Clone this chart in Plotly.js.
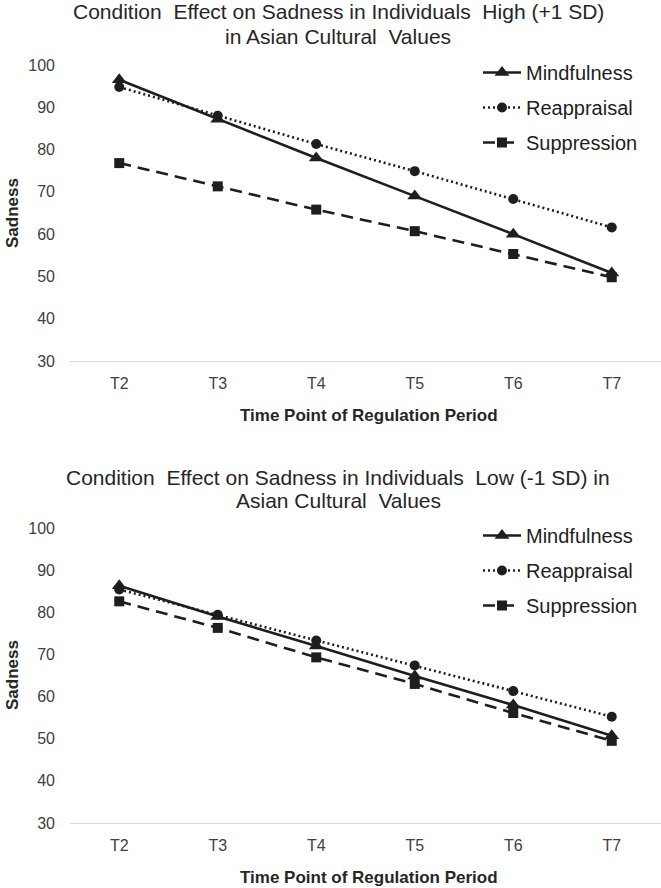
<!DOCTYPE html>
<html>
<head>
<meta charset="utf-8">
<script src="https://cdn.plot.ly/plotly-3.0.1.min.js"></script>
<style>
  html, body { margin: 0; padding: 0; background: #fff; }
  #plot { width: 661px; height: 888px; }
</style>
</head>
<body>
<div id="plot"></div>
<script>
const timePoints = ['T2', 'T3', 'T4', 'T5', 'T6', 'T7'];
const seriesNames = ['Mindfulness', 'Reappraisal', 'Suppression'];

// High (+1 SD) in Asian cultural values
const highMindfulness = [96.5, 87.2, 78.0, 69.0, 60.0, 50.8];
const highReappraisal = [94.8, 88.0, 81.3, 74.9, 68.3, 61.6];
const highSuppression = [76.8, 71.3, 65.8, 60.7, 55.3, 49.8];

// Low (-1 SD) in Asian cultural values
const lowMindfulness = [86.3, 79.0, 72.0, 64.9, 58.0, 50.7];
const lowReappraisal = [85.4, 79.4, 73.3, 67.4, 61.3, 55.2];
const lowSuppression = [82.6, 76.3, 69.3, 63.0, 56.1, 49.5];

const ink = '#1e1e1e';
const styles = {
    Mindfulness: {dash: 'solid', symbol: 'triangle-up', size: 13},
    Reappraisal: {dash: '2px,3px', symbol: 'circle', size: 10},
    Suppression: {dash: '12px,7px', symbol: 'square', size: 10}
};

function makeTrace(name, values, xa, ya, legendId) {
    const s = styles[name];
    return {
        x: timePoints,
        y: values,
        xaxis: xa,
        yaxis: ya,
        legend: legendId,
        legendgroup: legendId + name,
        name: name,
        mode: 'lines+markers',
        line: {color: ink, width: 2.6, dash: s.dash},
        marker: {color: ink, symbol: s.symbol, size: s.size}
    };
}

const data = [
    makeTrace('Mindfulness', highMindfulness, 'x', 'y', 'legend'),
    makeTrace('Reappraisal', highReappraisal, 'x', 'y', 'legend'),
    makeTrace('Suppression', highSuppression, 'x', 'y', 'legend'),
    makeTrace('Mindfulness', lowMindfulness, 'x2', 'y2', 'legend2'),
    makeTrace('Reappraisal', lowReappraisal, 'x2', 'y2', 'legend2'),
    makeTrace('Suppression', lowSuppression, 'x2', 'y2', 'legend2')
];

const font = 'Liberation Sans, Arial, sans-serif';
const W = 661, H = 888;
const px = v => v / W;
const py = v => 1 - v / H;

const xAxisBase = {
    type: 'category',
    range: [-0.5, 5.5],
    domain: [px(70), 1],
    showline: true,
    linecolor: '#d9d9d9',
    linewidth: 1,
    showgrid: false,
    zeroline: false,
    ticks: '',
    ticklabelstandoff: 8,
    tickfont: {family: font, size: 16, color: '#404040'},
    fixedrange: true
};

const yAxisBase = {
    range: [30, 100],
    dtick: 10,
    showline: false,
    showgrid: false,
    zeroline: false,
    ticks: '',
    ticklabelstandoff: 14,
    tickfont: {family: font, size: 16, color: '#404040'},
    fixedrange: true
};

const legendBase = {
    xanchor: 'left',
    yanchor: 'top',
    x: px(478),
    bgcolor: 'rgba(0,0,0,0)',
    font: {family: font, size: 20, color: ink},
    itemwidth: 38,
    tracegroupgap: 6
};

function label(text, x, y, opts) {
    return Object.assign({
        text: text, xref: 'paper', yref: 'paper', x: px(x), y: py(y),
        xanchor: 'center', yanchor: 'middle', showarrow: false,
        font: {family: font, size: 21, color: '#262626'}
    }, opts || {});
}

const boldFont = {family: font, size: 17, color: '#262626', weight: 'bold'};

const layout = {
    width: W,
    height: H,
    margin: {l: 0, r: 0, t: 0, b: 0},
    paper_bgcolor: '#fff',
    plot_bgcolor: '#fff',
    showlegend: true,
    xaxis: Object.assign({}, xAxisBase, {anchor: 'y'}),
    yaxis: Object.assign({}, yAxisBase, {anchor: 'x', domain: [py(361), py(65)]}),
    xaxis2: Object.assign({}, xAxisBase, {anchor: 'y2'}),
    yaxis2: Object.assign({}, yAxisBase, {anchor: 'x2', domain: [py(823), py(528)]}),
    legend: Object.assign({}, legendBase, {y: py(53)}),
    legend2: Object.assign({}, legendBase, {y: py(516)}),
    annotations: [
        label('Condition  Effect on Sadness in Individuals  High (+1 SD)', 338, 11),
        label('in Asian Cultural  Values', 338, 36),
        label('Condition  Effect on Sadness in Individuals  Low (-1 SD) in', 338, 477),
        label('Asian Cultural  Values', 338, 501),
        label('Time Point of Regulation Period', 369, 415, {font: boldFont}),
        label('Time Point of Regulation Period', 369, 877, {font: boldFont}),
        label('Sadness', 12, 213, {font: boldFont, textangle: -90}),
        label('Sadness', 12, 675, {font: boldFont, textangle: -90})
    ]
};

Plotly.newPlot('plot', data, layout, {displayModeBar: false, staticPlot: true});
</script>
</body>
</html>
